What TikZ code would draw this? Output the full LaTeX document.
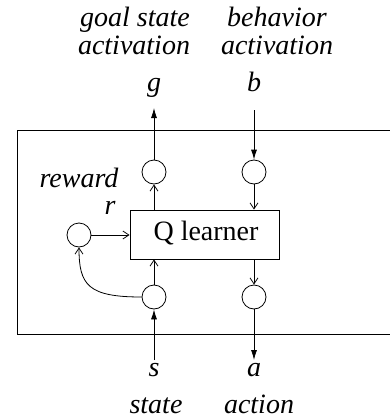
\documentclass[tikz,border=0pt]{standalone}
\usepackage{fontspec}
\setmainfont{Liberation Serif}
\usetikzlibrary{arrows.meta}
\begin{document}
\begin{tikzpicture}[x=1pt,y=-1pt,line width=0.8pt,
  unit/.style={draw,circle,minimum size=24pt,inner sep=0pt},
  lbl/.style={font=\fontsize{28}{32}\selectfont\itshape,anchor=base,inner sep=0pt},
  ext/.style={-{Latex[length=10pt,width=6pt]}},
  int/.style={-{Straight Barb[length=6pt,width=8pt]}}]
\useasboundingbox (0,0) rectangle (390,418);
\draw (400,130) -- (17,130) -- (17,334) -- (400,334);
% nodes
\node[unit] (g1) at (154,172) {};
\node[unit] (b1) at (254,172) {};
\node[unit] (s1) at (154,297) {};
\node[unit] (a1) at (254,297) {};
\node[unit] (r1) at (79,235) {};
\node[draw,minimum width=149pt,minimum height=49pt,inner sep=0pt] (q) at (204.5,234.5) {};
\node[anchor=base,inner sep=0pt,font=\fontsize{28}{32}\selectfont] (qt) at (206,240) {Q learner};
% labels
\node[lbl] (lg1) at (135,26) {goal state};
\node[lbl] (lg2) at (134,54) {activation};
\node[lbl] (lb1) at (277,26) {behavior};
\node[lbl] (lb2) at (277,54) {activation};
\node[lbl] (lg) at (154,91) {g};
\node[lbl] (lb) at (254,91) {b};
\node[lbl] (lrw) at (79,187) {reward};
\node[lbl] (lr) at (110,214) {r};
\node[lbl] (ls) at (154,376) {s};
\node[lbl] (la) at (254,376) {a};
\node[lbl] (lst) at (156,413) {state};
\node[lbl] (lac) at (259,413) {action};
% coordinates
\coordinate (gtop) at (154,108);
\coordinate (btop) at (254,110);
\coordinate (sbot) at (154,360);
\coordinate (abot) at (254,360);
% connectors
\draw[ext] (g1) -- (gtop);
\draw[ext] (btop) -- (b1);
\draw[ext] (sbot) -- (s1);
\draw[ext] (a1) -- (abot);
\draw[int] (q.north -| g1) -- (g1);
\draw[int] (b1) -- (q.north -| b1);
\draw[int] (s1) -- (q.south -| s1);
\draw[int] (q.south -| a1) -- (a1);
\draw[int] (r1) -- (q.west |- r1);
\draw[int] (s1.west) .. controls (88,297) and (79,285) .. (r1.south);
\end{tikzpicture}
\end{document}
